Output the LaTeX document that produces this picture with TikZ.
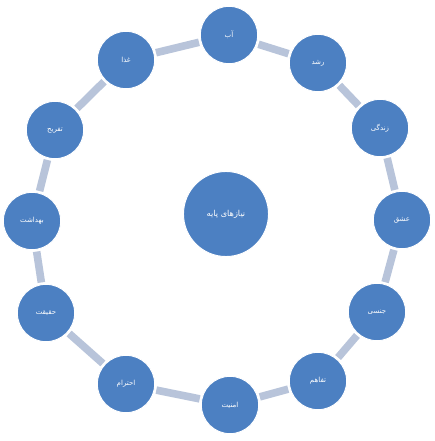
\documentclass[tikz,border=0pt]{standalone}
\usepackage{fontspec}
\usepackage{tikz}
\usetikzlibrary{positioning,calc}
\TeXXeTstate=1
\newfontfamily\arabicfont[Script=Arabic]{DejaVu Sans}
\definecolor{petalBlue} {RGB}{76, 128, 194}
\definecolor{ringGray}  {RGB}{184, 196, 218}

\begin{document}
\begin{tikzpicture}[x=0.03cm,y=-0.03cm,
    petal/.style={circle,fill=petalBlue,draw=white,line width=0.8pt,
                  minimum size=1.72cm,inner sep=0pt,text=white,
                  font=\fontsize{6}{7}\arabicfont},
    hub/.style={petal,minimum size=2.55cm,font=\fontsize{7}{8}\arabicfont},
    ring/.style={line width=6.5pt,ringGray,shorten >=1.5pt,shorten <=1.5pt}]

    \useasboundingbox (0,0) rectangle (434,441);

    % ── CÍRCULO CENTRAL ───────────────────────────────────
    \node[hub] (core) at (226,214) {\beginR نیازهای پایه\endR};

    % ── CÍRCULOS DO ANEL ──────────────────────────────────
    \foreach \x/\y/\txt [count=\i] in {
        229/35/آب, 318/63/رشد, 380/128/زندگی, 402/220/عشق,
        377/312/جنسی, 318/381/تفاهم, 230/405/امنیت, 126/384/احترام,
        46/313/حقیقت, 32/221/بهداشت, 55/130/تفریح, 126/60/غذا}
      \node[petal] (p\i) at (\x,\y) {\beginR\txt\endR};

    % ── LIGAÇÕES DO ANEL ──────────────────────────────────
    \foreach \i [evaluate=\i as \j using {int(mod(\i,12)+1)}] in {1,...,12}
      \draw[ring] (p\i) -- (p\j);

\end{tikzpicture}
\end{document}
